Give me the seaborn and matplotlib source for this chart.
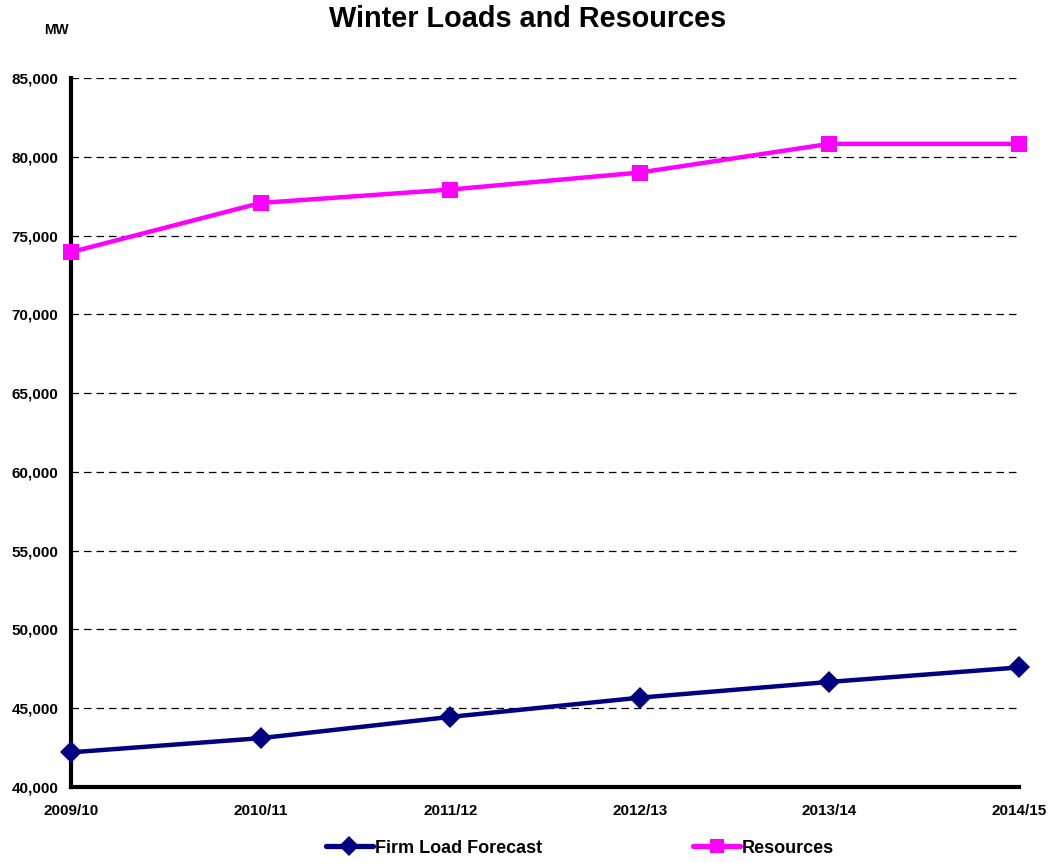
import numpy as np
import pandas as pd
import matplotlib
matplotlib.use("Agg")
import matplotlib.pyplot as plt
import seaborn as sns
from matplotlib.lines import Line2D

seasons = ["2009/10", "2010/11", "2011/12", "2012/13", "2013/14", "2014/15"]
firm_load = [42200, 43100, 44450, 45670, 46670, 47590]
resources = [73950, 77070, 77920, 79000, 80820, 80820]
y_ticks = [40000, 45000, 50000, 55000, 60000, 65000, 70000, 75000, 80000, 85000]

sns.set_style("white")
plt.rcParams['font.family'] = ['Liberation Sans', 'DejaVu Sans']
plt.rcParams['text.color'] = 'black'
plt.rcParams['xtick.color'] = 'black'
plt.rcParams['ytick.color'] = 'black'

df = pd.DataFrame({
    "pos": list(range(len(seasons))) * 2,
    "MW": firm_load + resources,
    "series": ["Firm Load Forecast"] * len(seasons) + ["Resources"] * len(seasons),
})

fig = plt.figure(figsize=(10.52, 8.63), dpi=100)
ax = fig.add_axes([71/1052, 1-787/863, (1019-71)/1052, (787-78)/863])

sns.lineplot(data=df, x="pos", y="MW", hue="series", style="series",
             palette={"Firm Load Forecast": "#000080", "Resources": "#FF00FF"},
             markers={"Firm Load Forecast": "D", "Resources": "s"},
             dashes=False, linewidth=3.2, markersize=11, markeredgewidth=0,
             ax=ax, legend=False, clip_on=False, zorder=5)

ax.set_xlim(0, len(seasons) - 1)
ax.set_ylim(40000, 85000)
ax.set_yticks(y_ticks)
ax.set_yticklabels([f"{v:,}" for v in y_ticks], fontsize=11, fontweight="bold", color="black")
ax.set_xticks(range(len(seasons)))
ax.set_xticklabels(seasons, fontsize=11, fontweight="bold", color="black")
ax.set_xlabel("")
ax.set_ylabel("")

for v in y_ticks[1:]:
    ax.axhline(v, color="black", linewidth=0.9, linestyle=(0, (6, 4)), zorder=1)

for s in ["top", "right"]:
    ax.spines[s].set_visible(False)
for s in ["left", "bottom"]:
    ax.spines[s].set_color("black")
    ax.spines[s].set_linewidth(3)

ax.tick_params(axis="y", length=0, pad=9)
ax.tick_params(axis="x", direction="in", length=5, width=2, color="black", pad=12)

fig.text(528/1052, 1-19/863, "Winter Loads and Resources", ha="center", va="center",
         fontsize=20.8, fontweight="bold", color="black")
fig.text(56/1052, 1-30/863, "MW", ha="center", va="center", fontsize=10,
         fontweight="bold", color="black")

handles = [
    Line2D([], [], color="#000080", linewidth=3.8, marker="D", markersize=10, markeredgewidth=0),
    Line2D([], [], color="#FF00FF", linewidth=3.8, marker="s", markersize=10, markeredgewidth=0),
]
leg = fig.legend(handles, ["Firm Load Forecast", "Resources"], loc="center",
                 bbox_to_anchor=(580/1052, 1-848/863), ncol=2, frameon=False,
                 prop={"size": 13, "weight": "bold"}, handlelength=2.6,
                 handletextpad=0.1, columnspacing=8.4)
for t in leg.get_texts():
    t.set_color("black")

fig.savefig("out.png", dpi=100)
